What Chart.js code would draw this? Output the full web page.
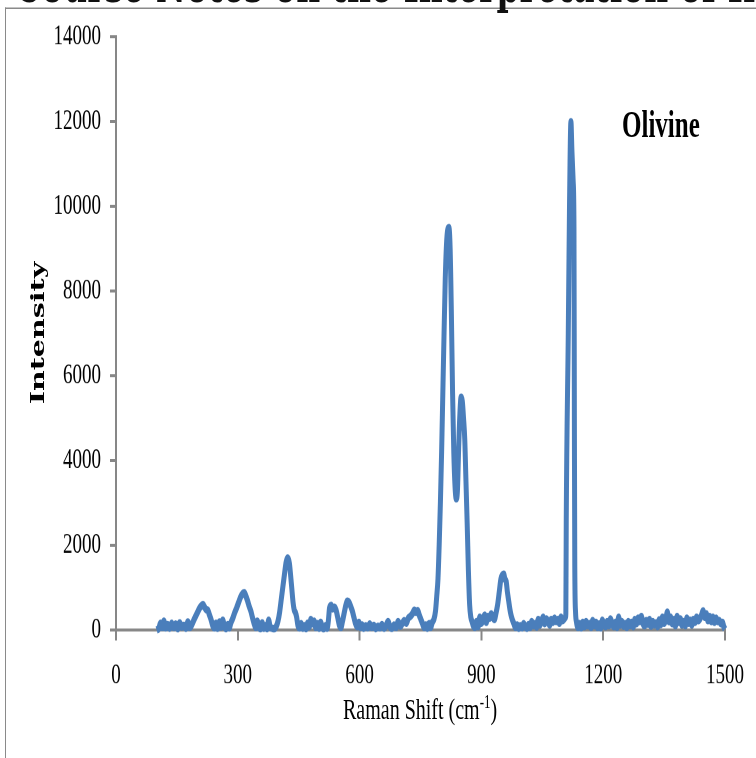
<!DOCTYPE html>
<html lang="en">
<head>
  <meta charset="UTF-8">
  <title>Olivine - Raman Spectrum</title>
  <script src="https://cdn.jsdelivr.net/npm/chart.js"></script>
  <style>
    html, body {
      margin: 0;
      padding: 0;
      background: #fff;
      overflow: hidden;
    }
    /* the original figure is stretched vertically, so the whole page is too */
    #page {
      position: absolute;
      left: 0;
      top: 0;
      width: 756px;
      height: 506px;
      transform: scaleY(1.5);
      transform-origin: 0 0;
    }
    #frame {
      position: absolute;
      left: 5px;
      top: 5.3px;
      width: 760px;
      height: 520px;
      border-top: 1.4px solid #8a8a8a;
      border-left: 1.5px solid #8a8a8a;
    }
    #booktitle {
      position: absolute;
      left: 15px;
      top: -27px;
      white-space: nowrap;
      font-family: "DejaVu Serif", serif;
      font-weight: bold;
      font-size: 33px;
      line-height: 33px;
      color: #111;
    }
    #chartbox {
      position: absolute;
      left: 0;
      top: 0;
      width: 756px;
      height: 506px;
    }
    #ytitle {
      position: absolute;
      left: -63px;
      top: 210px;
      width: 200px;
      height: 24px;
      line-height: 24px;
      text-align: center;
      font-family: "DejaVu Serif", serif;
      font-weight: bold;
      font-size: 19px;
      color: #000;
      transform: rotate(-90deg);
    }
    #xtitle {
      position: absolute;
      left: 343px;
      top: 462px;
      white-space: nowrap;
      font-family: "Liberation Serif", serif;
      font-size: 20px;
      line-height: 20px;
      color: #000;
    }
    #xtitle sup {
      font-size: 13px;
      vertical-align: 7px;
      line-height: 0;
    }
    #label {
      position: absolute;
      left: 622px;
      top: 70.4px;
      font-family: "Liberation Serif", serif;
      font-weight: bold;
      font-size: 25px;
      line-height: 25px;
      color: #000;
    }
  </style>
</head>
<body>
  <div id="page">
    <div id="frame"></div>
    <div id="booktitle">Course Notes on the Interpretation of Infrared and Raman Spectra</div>
    <div id="chartbox"><canvas id="spectre" width="756" height="506"></canvas></div>
    <div id="ytitle">Intensity</div>
    <div id="xtitle">Raman Shift (cm<sup>-1</sup>)</div>
    <div id="label">Olivine</div>
  </div>
  <script>
    // Raman shift (cm-1)
    const ramanShift = [
      100, 105, 110, 114, 118, 122, 127, 132, 137, 142, 147, 152, 157, 162, 167, 172, 177, 182, 187, 192, 196,
      200, 205, 210, 214, 218, 222, 226, 230, 234, 238, 242, 246, 250, 255, 259, 263, 267, 271, 275, 279, 283, 287,
      292, 297, 302, 307, 312, 316, 320, 324, 328, 332, 336, 340, 344, 348, 352, 356, 360, 364, 368, 372, 376, 380, 385, 390, 395, 399,
      403, 407, 411, 415, 419, 423, 427, 430, 433, 436, 439, 442, 445, 448, 452, 456, 460, 464, 468, 472, 476, 480, 484, 488, 492, 496, 500, 504, 508, 512, 516, 520,
      523, 526, 530, 534, 538, 542, 546, 550, 554, 558, 562, 566, 570, 574, 578, 582, 586, 590, 594, 598, 602, 606, 610, 615, 620, 625, 630, 635, 640, 645, 650, 655, 660, 665, 670, 675, 680, 685, 690, 695, 700, 705, 710, 715, 720, 725, 730, 735, 739, 743, 747, 751, 755, 759, 763, 767, 771, 775, 779, 783, 787, 790,
      793, 796, 799, 802, 805, 808, 811, 814, 817, 820, 823, 826, 829, 832, 835, 838, 841, 844, 847, 850, 853, 856, 859, 862, 865, 868, 871, 874, 877, 880, 884, 888, 892, 896, 900, 904, 908, 912, 916, 920, 924, 928, 932, 936,
      940, 944, 948, 952, 955, 958, 961, 964, 967, 970, 973, 976, 980, 984, 988, 992, 996, 1000, 1004, 1008, 1012, 1016, 1020, 1024, 1028, 1032, 1036, 1040, 1044, 1048, 1052, 1056, 1060, 1064, 1068, 1072, 1076, 1080, 1084, 1088, 1092, 1096, 1100, 1104, 1107,
      1108, 1109, 1114, 1117, 1120.5, 1123, 1126, 1128, 1129, 1130, 1132, 1134,
      1138, 1142, 1146, 1150, 1154, 1158, 1162, 1166, 1170, 1174, 1178, 1182, 1186, 1190, 1194, 1198, 1202, 1206, 1210, 1214, 1218, 1222, 1226, 1230, 1234, 1238, 1242, 1246, 1250, 1254, 1258, 1262, 1266, 1270, 1274, 1278, 1282, 1286, 1290, 1294, 1298,
      1302, 1306, 1310, 1314, 1318, 1322, 1326, 1330, 1334, 1338, 1342, 1346, 1350, 1354, 1358, 1362, 1366, 1370, 1374, 1378, 1382, 1386, 1390, 1394, 1398, 1402, 1406, 1410, 1414, 1418, 1422, 1426, 1430, 1434, 1438, 1442, 1446, 1450, 1454, 1458, 1462, 1466, 1470, 1474, 1478, 1482, 1486, 1490, 1494, 1497, 1500
    ];

    // intensity at each shift
    const intensity = [
      0, 30, 160, 60, 210, 50, 130, 40, 160, 60, 140, 30, 170, 70, 110, 40, 190, 60, 130, 240, 320,
      400, 500, 570, 600, 540, 480, 470, 360, 250, 110, 50, 160, 40, 190, 70, 230, 90, 30, 130, 50, 170, 260,
      400, 520, 650, 780, 860, 880, 800, 690, 560, 450, 300, 160, 60, 210, 70, 30, 170, 40, 100, 30, 230, 70, 40, 30, 90, 210,
      420, 720, 1020, 1320, 1600, 1700, 1580, 1300, 980, 660, 470, 410, 300, 110, 50, 150, 40, 100, 30, 160, 80, 250, 150, 210, 60, 150, 40, 180, 60, 30, 100, 40,
      210, 520, 580, 500, 540, 470, 300, 120, 60, 210, 400, 580, 680, 650, 560, 450, 300, 150, 80, 180, 60, 120, 40, 100, 50, 140, 60, 110, 30, 90, 50, 130, 40, 100, 200, 70, 40, 120, 60, 200, 90, 150, 220, 160, 280, 320, 380, 470, 420, 460, 350, 250, 150, 60, 120, 40, 150, 60, 180, 250, 450, 800,
      1200, 2000, 3000, 4200, 5600, 7000, 8300, 9100, 9450, 9500, 9000, 7500, 5600, 4200, 3400, 3100, 3300, 4300, 5100, 5500, 5400, 5000, 4500, 3500, 2500, 1400, 600, 300, 200, 100, 60, 200, 80, 300, 160, 250, 350, 180, 320, 280, 380, 300, 250, 400,
      600, 900, 1200, 1300, 1320, 1200, 1150, 900, 700, 500, 350, 250, 150, 60, 120, 40, 100, 50, 150, 80, 40, 130, 60, 200, 100, 150, 70, 250, 120, 200, 300, 150, 260, 200, 120, 250, 180, 280, 200, 250, 160, 300, 220, 260, 300,
      400, 2600, 7000, 10000, 12000, 11300, 10600, 9500, 5000, 1500, 400, 200,
      60, 150, 50, 180, 80, 200, 100, 150, 60, 220, 100, 180, 60, 140, 50, 230, 120, 80, 200, 100, 260, 150, 80, 180, 60, 300, 120, 200, 90, 150, 60, 200, 100, 180, 80, 250, 150, 280, 200, 320, 150,
      100, 220, 140, 250, 90, 200, 120, 170, 80, 240, 130, 300, 160, 250, 420, 200, 300, 150, 250, 100, 320, 180, 260, 120, 200, 100, 280, 160, 230, 120, 250, 180, 300, 220, 260, 350, 450, 300, 380, 220, 320, 200, 300, 180, 280, 200, 220, 150, 180, 80, 20
    ];

    const xTicks = [0, 300, 600, 900, 1200, 1500];
    const yTicks = [0, 2000, 4000, 6000, 8000, 10000, 12000, 14000];

    const points = ramanShift.map((x, i) => ({ x: x, y: intensity[i] }));

    const gris = '#878787';
    const tickFont = { family: 'Liberation Serif', size: 19 };

    const ctx = document.getElementById('spectre').getContext('2d');
    new Chart(ctx, {
      type: 'line',
      data: {
        datasets: [{
          label: 'Olivine',
          data: points,
          borderColor: '#4a7ebb',
          borderWidth: 5,
          pointRadius: 0,
          cubicInterpolationMode: 'monotone',
          fill: false,
          clip: false
        }]
      },
      options: {
        responsive: false,
        animation: false,
        devicePixelRatio: 2,
        layout: { padding: { left: 0, top: 24.7, right: 30, bottom: 0 } },
        plugins: {
          legend: { display: false },
          tooltip: { enabled: false }
        },
        scales: {
          x: {
            type: 'linear',
            min: xTicks[0],
            max: xTicks[xTicks.length - 1],
            afterFit: (s) => { s.height = 86; },
            afterBuildTicks: (s) => { s.ticks = xTicks.map(v => ({ value: v })); },
            ticks: {
              color: '#000',
              font: tickFont,
              padding: 12,
              maxRotation: 0,
              callback: (v) => String(v)
            },
            grid: { drawOnChartArea: false, drawTicks: true, tickLength: 7, color: gris, lineWidth: 2 },
            border: { display: true, color: gris, width: 2 }
          },
          y: {
            min: yTicks[0],
            max: yTicks[yTicks.length - 1],
            afterFit: (s) => { s.width = 116; },
            afterBuildTicks: (s) => { s.ticks = yTicks.map(v => ({ value: v })); },
            ticks: {
              color: '#000',
              font: tickFont,
              padding: 9,
              callback: (v) => String(v)
            },
            grid: { drawOnChartArea: false, drawTicks: true, tickLength: 6, color: gris, lineWidth: 2 },
            border: { display: true, color: gris, width: 2 }
          }
        }
      }
    });
  </script>
</body>
</html>
